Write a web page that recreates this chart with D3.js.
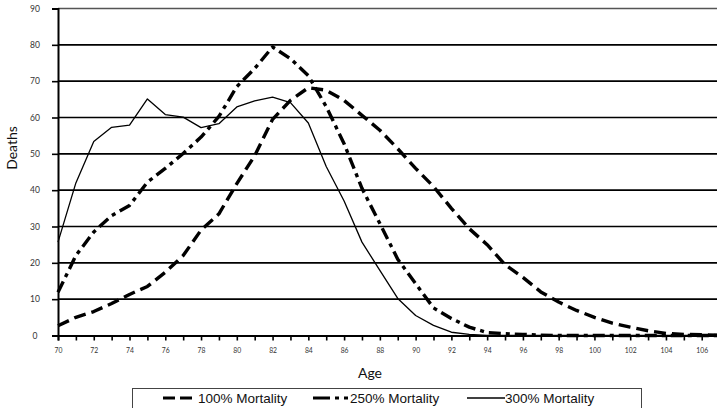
<!DOCTYPE html>
<html><head><meta charset="utf-8">
<script src="https://cdn.jsdelivr.net/npm/d3@7/dist/d3.min.js"></script>
<style>body{margin:0;background:#fff}svg{display:block}</style>
</head><body>
<svg id="c" width="717" height="408"></svg>
<script>
const ages = d3.range(70, 108);
const mort100 = [2.7,5,6.6,8.8,11.3,13.5,17.4,22,29,33.5,41.8,49.5,59.5,64.7,68.2,67.5,64.7,60.6,56.5,51.4,46,41,35,29.4,25,19.5,16,12,9.2,6.9,5,3.4,2.3,1.3,0.6,0.3,0.2,0.1];
const mort250 = [11.9,22,28.5,33,35.8,42.2,46,50.1,54.6,60.3,68.5,73.5,79.4,76.2,71.5,63,52.8,40.5,30.8,21,14.3,7.6,4.7,2.3,0.8,0.5,0.3,0.1,0,0,0,0,0,0,0,0,0,0];
const mort300 = [25.7,42,53.4,57.3,57.9,65.1,60.8,60.1,57.2,58.3,62.9,64.6,65.6,64.1,58.5,46.5,37,25.7,17.9,10.2,5.5,2.8,0.9,0.3,0,0,0,0,0,0,0,0,0,0,0,0,0,0];
const yTicks = [0,10,20,30,40,50,60,70,80,90];
const xLabels = d3.range(70, 108, 2);
const seriesNames = ["100% Mortality","250% Mortality","300% Mortality"];

const svg = d3.select("#c");
const x = d3.scaleLinear().domain([70,107]).range([58,719.6]);
const y = d3.scaleLinear().domain([0,90]).range([335.5,8.5]);

// gridlines
svg.append("g").selectAll("line").data(yTicks.filter(d=>d>0)).join("line")
  .attr("x1",58).attr("x2",717).attr("y1",d=>y(d)).attr("y2",d=>y(d))
  .attr("stroke",d=>d===90?"#555":"#000").attr("stroke-width",1.6);

// y axis
const ya = svg.append("g").attr("transform","translate(58,0)")
  .call(d3.axisLeft(y).tickValues(yTicks).tickSize(6).tickPadding(17).tickFormat(d3.format("d")));
ya.select(".domain").attr("stroke","#000").attr("stroke-width",2);
ya.selectAll(".tick line").attr("stroke","#000").attr("stroke-width",1.6);
ya.selectAll("text").attr("font-family","Lato, 'DejaVu Sans', sans-serif").attr("font-size",8.5).attr("fill","#333").attr("text-anchor","middle");

// x axis
const xa = svg.append("g").attr("transform","translate(0,335.5)")
  .call(d3.axisBottom(x).tickValues(ages).tickSize(5).tickPadding(8).tickFormat(d=>d%2===0?d:""));
xa.select(".domain").attr("stroke","#000").attr("stroke-width",2);
xa.selectAll(".tick line").attr("stroke","#000").attr("stroke-width",1.6);
xa.selectAll("text").attr("font-family","Lato, 'DejaVu Sans', sans-serif").attr("font-size",6.8).attr("fill","#333");

// titles
svg.append("text").attr("x",370).attr("y",378).attr("text-anchor","middle")
  .attr("font-family","Lato, 'DejaVu Sans', sans-serif").attr("font-size",14).attr("fill","#111").text("Age");
svg.append("text").attr("transform","translate(17,148) rotate(-90)").attr("text-anchor","middle")
  .attr("font-family","Lato, 'DejaVu Sans', sans-serif").attr("font-size",14).attr("fill","#111").text("Deaths");

// lines
const line = d3.line().x((d,i)=>x(ages[i])).y(d=>y(d));
const styles = [
  {data:mort100, w:3.4, dash:"12,6"},
  {data:mort250, w:3.4, dash:"12,5,4,5"},
  {data:mort300, w:1.3, dash:null}
];
svg.append("g").selectAll("path").data(styles).join("path")
  .attr("d",d=>line(d.data)).attr("fill","none").attr("stroke","#000")
  .attr("stroke-width",d=>d.w).attr("stroke-dasharray",d=>d.dash).attr("stroke-linejoin","round");

// legend
const lg = svg.append("g");
lg.append("rect").attr("x",132.5).attr("y",388.5).attr("width",509).attr("height",30)
  .attr("fill","#fff").attr("stroke","#444").attr("stroke-width",1);
const legItems = [
  {x1:163,x2:195,tx:198,w:3,dash:"12,5"},
  {x1:313,x2:348,tx:350,w:3,dash:"17,5,4,5"},
  {x1:467,x2:505,tx:505,w:1.5,dash:null}
];
legItems.forEach((d,i)=>{
  lg.append("line").attr("x1",d.x1).attr("x2",d.x2).attr("y1",398).attr("y2",398)
    .attr("stroke","#000").attr("stroke-width",d.w).attr("stroke-dasharray",d.dash);
  lg.append("text").attr("x",d.tx).attr("y",403).attr("font-family","'Liberation Sans', Arial, sans-serif")
    .attr("font-size",13.5).attr("fill","#111").text(seriesNames[i]);
});
</script>
</body></html>
